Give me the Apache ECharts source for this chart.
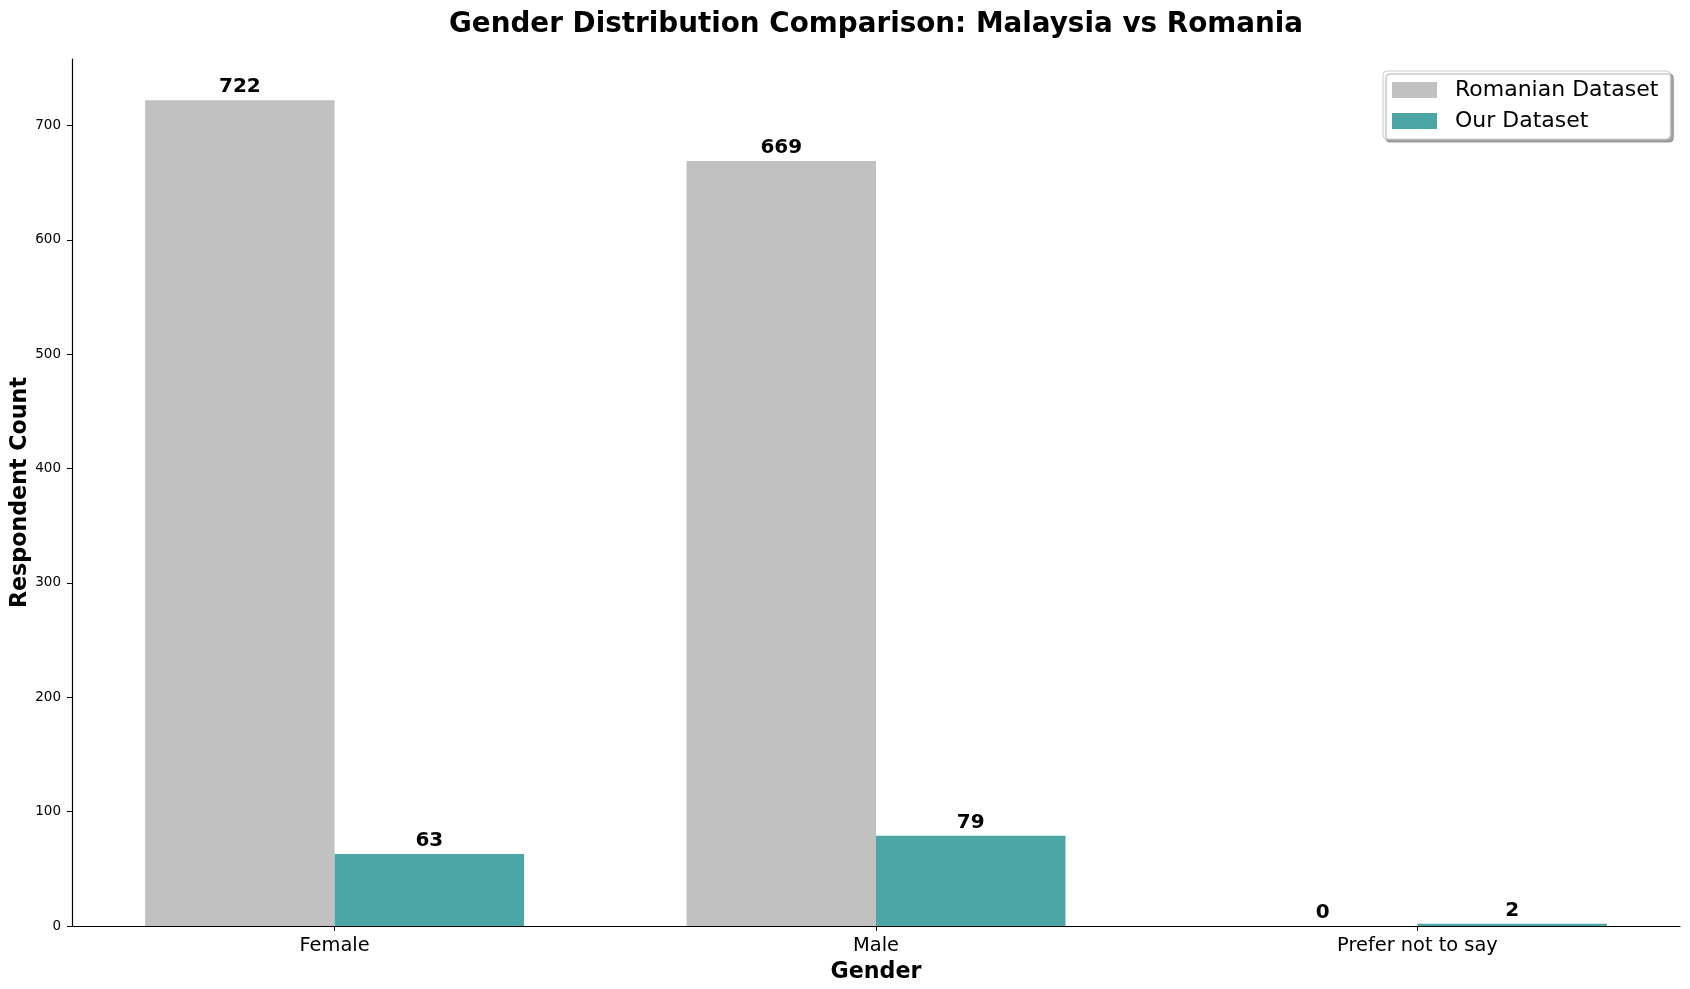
<!DOCTYPE html>
<html>
<head>
<meta charset="utf-8">
<script src="https://cdn.jsdelivr.net/npm/echarts@6/dist/echarts.min.js"></script>
<style>
  html, body { margin: 0; padding: 0; background: #fff; }
  #chart { width: 1690px; height: 989px; }
</style>
</head>
<body>
<div id="chart"></div>
<script>
var categories = ['Female', 'Male', 'Prefer not to say'];
var romanianCounts = [722, 669, 0];
var ourCounts = [63, 79, 2];
var yTicks = [0, 100, 200, 300, 400, 500, 600, 700];

var FONT = 'DejaVu Sans';

// bars sit on a value axis so the category spacing matches the original
function toPoints(values) {
    var out = [];
    for (var i = 0; i < values.length; i++) {
        out.push([i, values[i]]);
    }
    return out;
}
var catIdx = categories.map(function(c, i) { return i; });

var valueLabel = {
    show: true,
    position: 'top',
    distance: 3,
    fontFamily: FONT,
    fontWeight: 'bold',
    fontSize: 20,
    color: '#000',
    formatter: function(p) { return p.value[1]; }
};

var option = {
    animation: false,
    backgroundColor: '#fff',
    title: {
        text: 'Gender Distribution Comparison: Malaysia vs Romania',
        left: 444,
        top: 6,
        textStyle: {
            fontFamily: FONT,
            fontWeight: 'bold',
            fontSize: 27.8,
            color: '#000'
        }
    },
    legend: {
        orient: 'vertical',
        left: 1383,
        top: 71,
        icon: 'rect',
        itemWidth: 45,
        itemHeight: 16,
        itemGap: 9,
        padding: [8, 12, 7, 9],
        backgroundColor: '#fff',
        borderColor: '#cccccc',
        borderWidth: 1,
        borderRadius: 4,
        shadowColor: 'rgba(0,0,0,0.35)',
        shadowBlur: 1,
        shadowOffsetX: 3,
        shadowOffsetY: 3,
        textStyle: {
            fontFamily: FONT,
            fontSize: 22,
            color: '#000',
            padding: [0, 0, 0, 13]
        },
        data: ['Romanian Dataset', 'Our Dataset']
    },
    grid: {
        left: 72,
        right: 10,
        top: 59,
        bottom: 63,
        containLabel: false,
        outerBoundsMode: 'none'
    },
    xAxis: {
        type: 'value',
        min: -0.485,
        max: 2.485,
        name: 'Gender',
        nameLocation: 'middle',
        nameGap: 35,
        nameMoveOverlap: false,
        nameTextStyle: {
            fontFamily: FONT,
            fontWeight: 'bold',
            fontSize: 22.2,
            color: '#000'
        },
        axisLine: { show: true, onZero: false, lineStyle: { color: '#000', width: 1.2 } },
        axisTick: { show: true, length: 5, customValues: catIdx, lineStyle: { color: '#000' } },
        axisLabel: {
            customValues: catIdx,
            margin: 10,
            fontFamily: FONT,
            fontSize: 19.4,
            color: '#000',
            formatter: function(v) { return categories[Math.round(v)]; }
        },
        splitLine: { show: false }
    },
    yAxis: {
        type: 'value',
        min: 0,
        max: 758.1,
        name: 'Respondent Count',
        nameLocation: 'middle',
        nameGap: 41,
        nameMoveOverlap: false,
        nameTextStyle: {
            fontFamily: FONT,
            fontWeight: 'bold',
            fontSize: 22.2,
            color: '#000'
        },
        axisLine: { show: true, onZero: false, lineStyle: { color: '#000', width: 1.2 } },
        axisTick: { show: true, length: 5, customValues: yTicks, lineStyle: { color: '#000' } },
        axisLabel: {
            customValues: yTicks,
            margin: 11,
            fontFamily: FONT,
            fontSize: 13.5,
            color: '#000'
        },
        splitLine: { show: false }
    },
    series: [
        {
            name: 'Romanian Dataset',
            type: 'bar',
            barWidth: 189.5,
            barGap: '0%',
            itemStyle: { color: '#c1c1c1' },
            label: valueLabel,
            data: toPoints(romanianCounts)
        },
        {
            name: 'Our Dataset',
            type: 'bar',
            barWidth: 189.5,
            barGap: '0%',
            itemStyle: { color: '#4da6a6' },
            label: valueLabel,
            data: toPoints(ourCounts)
        }
    ]
};

var myChart = echarts.init(document.getElementById('chart'));
myChart.setOption(option);
</script>
</body>
</html>
